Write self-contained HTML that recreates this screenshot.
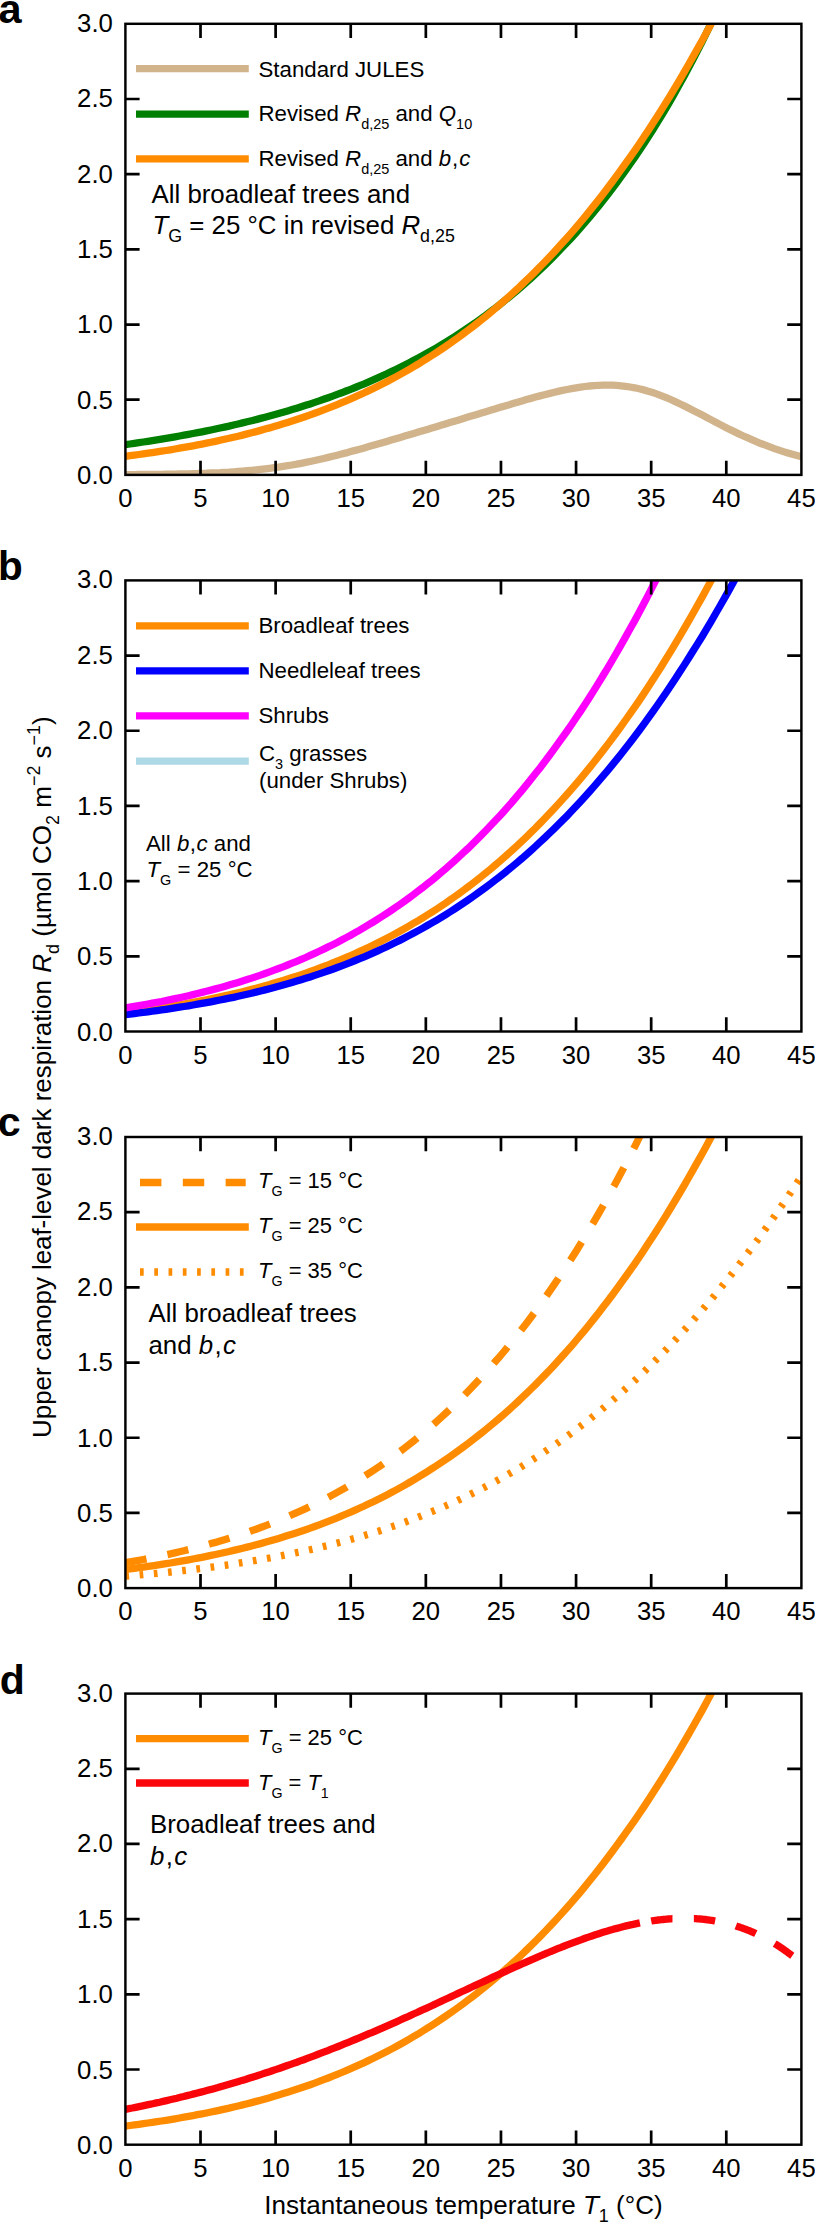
<!DOCTYPE html>
<html lang="en"><head><meta charset="utf-8"><title>Leaf-level dark respiration versus temperature</title>
<style>html,body{margin:0;padding:0;background:#fff}svg{display:block}text{font-family:"Liberation Sans",Arial,Helvetica,sans-serif;fill:#000}.i{font-style:italic}.c{fill:none;stroke-width:7.30}.f{fill:none;stroke:#000;stroke-width:2.45}.pl{font-weight:bold}</style></head><body>
<svg width="815" height="2222" viewBox="0 0 815 2222">
<rect width="815" height="2222" fill="#fff"/>
<defs>
<clipPath id="cp0"><rect x="125.40" y="23.80" width="676.00" height="451.10"/></clipPath>
<clipPath id="cp1"><rect x="125.40" y="580.40" width="676.00" height="451.10"/></clipPath>
<clipPath id="cp2"><rect x="125.40" y="1137.00" width="676.00" height="451.10"/></clipPath>
<clipPath id="cp3"><rect x="125.40" y="1693.60" width="676.00" height="451.10"/></clipPath>
</defs>
<path class="c" clip-path="url(#cp0)" stroke="#D2B48C" d="M125.4 474.6 L129.9 474.6 L134.4 474.6 L138.9 474.5 L143.4 474.5 L147.9 474.5 L152.4 474.4 L156.9 474.4 L161.5 474.3 L166.0 474.2 L170.5 474.2 L175.0 474.1 L179.5 474.0 L184.0 473.9 L188.5 473.8 L193.0 473.6 L197.5 473.5 L202.0 473.3 L206.5 473.2 L211.0 473.0 L215.5 472.8 L220.0 472.6 L224.5 472.3 L229.1 472.1 L233.6 471.8 L238.1 471.4 L242.6 471.1 L247.1 470.7 L251.6 470.3 L256.1 469.9 L260.6 469.4 L265.1 468.9 L269.6 468.3 L274.1 467.7 L278.6 467.1 L283.1 466.4 L287.6 465.7 L292.1 465.0 L296.7 464.2 L301.2 463.3 L305.7 462.4 L310.2 461.5 L314.7 460.5 L319.2 459.5 L323.7 458.5 L328.2 457.4 L332.7 456.3 L337.2 455.2 L341.7 454.0 L346.2 452.9 L350.7 451.6 L355.2 450.4 L359.7 449.2 L364.3 447.9 L368.8 446.6 L373.3 445.3 L377.8 444.0 L382.3 442.7 L386.8 441.4 L391.3 440.1 L395.8 438.7 L400.3 437.4 L404.8 436.1 L409.3 434.7 L413.8 433.4 L418.3 432.0 L422.8 430.7 L427.3 429.4 L431.9 428.0 L436.4 426.7 L440.9 425.3 L445.4 423.9 L449.9 422.6 L454.4 421.2 L458.9 419.9 L463.4 418.5 L467.9 417.1 L472.4 415.8 L476.9 414.4 L481.4 413.0 L485.9 411.7 L490.4 410.3 L494.9 409.0 L499.5 407.6 L504.0 406.2 L508.5 404.9 L513.0 403.6 L517.5 402.2 L522.0 400.9 L526.5 399.6 L531.0 398.4 L535.5 397.1 L540.0 395.9 L544.5 394.7 L549.0 393.6 L553.5 392.5 L558.0 391.4 L562.5 390.4 L567.1 389.5 L571.6 388.6 L576.1 387.8 L580.6 387.1 L585.1 386.5 L589.6 386.0 L594.1 385.6 L598.6 385.3 L603.1 385.1 L607.6 385.1 L612.1 385.2 L616.6 385.4 L621.1 385.8 L625.6 386.3 L630.1 387.0 L634.7 387.8 L639.2 388.8 L643.7 389.9 L648.2 391.2 L652.7 392.6 L657.2 394.1 L661.7 395.8 L666.2 397.6 L670.7 399.5 L675.2 401.6 L679.7 403.7 L684.2 405.9 L688.7 408.1 L693.2 410.4 L697.7 412.7 L702.3 415.1 L706.8 417.5 L711.3 419.9 L715.8 422.2 L720.3 424.6 L724.8 426.9 L729.3 429.2 L733.8 431.4 L738.3 433.6 L742.8 435.7 L747.3 437.7 L751.8 439.7 L756.3 441.6 L760.8 443.5 L765.3 445.2 L769.9 446.9 L774.4 448.6 L778.9 450.1 L783.4 451.6 L787.9 453.0 L792.4 454.3 L796.9 455.5 L801.4 456.7"/>
<path class="c" clip-path="url(#cp0)" stroke="#007F00" d="M125.4 444.6 L129.9 444.0 L134.4 443.3 L138.9 442.7 L143.4 442.0 L147.9 441.3 L152.4 440.6 L156.9 439.9 L161.5 439.1 L166.0 438.4 L170.5 437.6 L175.0 436.8 L179.5 436.0 L184.0 435.2 L188.5 434.4 L193.0 433.5 L197.5 432.7 L202.0 431.8 L206.5 430.9 L211.0 430.0 L215.5 429.0 L220.0 428.0 L224.5 427.1 L229.1 426.1 L233.6 425.0 L238.1 424.0 L242.6 422.9 L247.1 421.8 L251.6 420.7 L256.1 419.6 L260.6 418.4 L265.1 417.2 L269.6 416.0 L274.1 414.8 L278.6 413.5 L283.1 412.2 L287.6 410.9 L292.1 409.6 L296.7 408.2 L301.2 406.8 L305.7 405.3 L310.2 403.9 L314.7 402.4 L319.2 400.9 L323.7 399.3 L328.2 397.7 L332.7 396.1 L337.2 394.4 L341.7 392.8 L346.2 391.0 L350.7 389.3 L355.2 387.5 L359.7 385.6 L364.3 383.8 L368.8 381.8 L373.3 379.9 L377.8 377.9 L382.3 375.8 L386.8 373.8 L391.3 371.6 L395.8 369.5 L400.3 367.3 L404.8 365.0 L409.3 362.7 L413.8 360.3 L418.3 357.9 L422.8 355.5 L427.3 353.0 L431.9 350.4 L436.4 347.8 L440.9 345.1 L445.4 342.4 L449.9 339.6 L454.4 336.7 L458.9 333.8 L463.4 330.9 L467.9 327.9 L472.4 324.8 L476.9 321.6 L481.4 318.4 L485.9 315.1 L490.4 311.7 L494.9 308.3 L499.5 304.8 L504.0 301.2 L508.5 297.6 L513.0 293.9 L517.5 290.1 L522.0 286.2 L526.5 282.2 L531.0 278.2 L535.5 274.0 L540.0 269.8 L544.5 265.5 L549.0 261.1 L553.5 256.6 L558.0 252.0 L562.5 247.3 L567.1 242.6 L571.6 237.7 L576.1 232.7 L580.6 227.6 L585.1 222.4 L589.6 217.1 L594.1 211.7 L598.6 206.2 L603.1 200.5 L607.6 194.7 L612.1 188.9 L616.6 182.8 L621.1 176.7 L625.6 170.4 L630.1 164.0 L634.7 157.5 L639.2 150.8 L643.7 144.0 L648.2 137.1 L652.7 130.0 L657.2 122.7 L661.7 115.3 L666.2 107.8 L670.7 100.1 L675.2 92.2 L679.7 84.1 L684.2 75.9 L688.7 67.6 L693.2 59.0 L697.7 50.3 L702.3 41.3 L706.8 32.2 L711.3 22.9 L715.8 13.4 L720.3 3.7 L724.8 -6.2 L729.3 -16.3"/>
<path class="c" clip-path="url(#cp0)" stroke="#FF8C00" d="M125.4 456.3 L129.9 455.7 L134.4 455.1 L138.9 454.5 L143.4 453.9 L147.9 453.2 L152.4 452.6 L156.9 451.9 L161.5 451.2 L166.0 450.5 L170.5 449.8 L175.0 449.0 L179.5 448.2 L184.0 447.4 L188.5 446.6 L193.0 445.8 L197.5 444.9 L202.0 444.1 L206.5 443.2 L211.0 442.2 L215.5 441.3 L220.0 440.3 L224.5 439.3 L229.1 438.3 L233.6 437.2 L238.1 436.2 L242.6 435.1 L247.1 433.9 L251.6 432.8 L256.1 431.6 L260.6 430.4 L265.1 429.1 L269.6 427.9 L274.1 426.5 L278.6 425.2 L283.1 423.8 L287.6 422.4 L292.1 421.0 L296.7 419.5 L301.2 418.0 L305.7 416.5 L310.2 414.9 L314.7 413.3 L319.2 411.6 L323.7 409.9 L328.2 408.2 L332.7 406.4 L337.2 404.6 L341.7 402.7 L346.2 400.8 L350.7 398.9 L355.2 396.9 L359.7 394.8 L364.3 392.8 L368.8 390.6 L373.3 388.5 L377.8 386.2 L382.3 384.0 L386.8 381.7 L391.3 379.3 L395.8 376.9 L400.3 374.4 L404.8 371.9 L409.3 369.3 L413.8 366.6 L418.3 364.0 L422.8 361.2 L427.3 358.4 L431.9 355.5 L436.4 352.6 L440.9 349.6 L445.4 346.6 L449.9 343.5 L454.4 340.3 L458.9 337.1 L463.4 333.8 L467.9 330.4 L472.4 327.0 L476.9 323.5 L481.4 319.9 L485.9 316.3 L490.4 312.6 L494.9 308.8 L499.5 304.9 L504.0 301.0 L508.5 297.0 L513.0 292.9 L517.5 288.8 L522.0 284.5 L526.5 280.2 L531.0 275.8 L535.5 271.4 L540.0 266.8 L544.5 262.2 L549.0 257.5 L553.5 252.7 L558.0 247.8 L562.5 242.8 L567.1 237.7 L571.6 232.6 L576.1 227.3 L580.6 222.0 L585.1 216.6 L589.6 211.0 L594.1 205.4 L598.6 199.7 L603.1 193.9 L607.6 188.0 L612.1 182.0 L616.6 175.9 L621.1 169.7 L625.6 163.4 L630.1 157.1 L634.7 150.6 L639.2 144.0 L643.7 137.3 L648.2 130.4 L652.7 123.5 L657.2 116.5 L661.7 109.4 L666.2 102.1 L670.7 94.8 L675.2 87.3 L679.7 79.8 L684.2 72.1 L688.7 64.3 L693.2 56.4 L697.7 48.4 L702.3 40.3 L706.8 32.0 L711.3 23.6 L715.8 15.2 L720.3 6.6 L724.8 -2.1 L729.3 -11.0 L733.8 -19.9"/>
<path class="f" style="stroke-width:2.7" d="M200.51 474.90 v-14.20 M200.51 23.80 v14.20 M275.62 474.90 v-14.20 M275.62 23.80 v14.20 M350.73 474.90 v-14.20 M350.73 23.80 v14.20 M425.84 474.90 v-14.20 M425.84 23.80 v14.20 M500.96 474.90 v-14.20 M500.96 23.80 v14.20 M576.07 474.90 v-14.20 M576.07 23.80 v14.20 M651.18 474.90 v-14.20 M651.18 23.80 v14.20 M726.29 474.90 v-14.20 M726.29 23.80 v14.20 M125.40 399.72 h14.20 M801.40 399.72 h-14.20 M125.40 324.53 h14.20 M801.40 324.53 h-14.20 M125.40 249.35 h14.20 M801.40 249.35 h-14.20 M125.40 174.17 h14.20 M801.40 174.17 h-14.20 M125.40 98.98 h14.20 M801.40 98.98 h-14.20"/>
<rect class="f" x="125.40" y="23.80" width="676.00" height="451.10"/>
<text transform="translate(125.40 506.90) scale(1.0120 1)" font-size="25.40" text-anchor="middle">0</text>
<text transform="translate(200.51 506.90) scale(1.0120 1)" font-size="25.40" text-anchor="middle">5</text>
<text transform="translate(275.62 506.90) scale(1.0120 1)" font-size="25.40" text-anchor="middle">10</text>
<text transform="translate(350.73 506.90) scale(1.0120 1)" font-size="25.40" text-anchor="middle">15</text>
<text transform="translate(425.84 506.90) scale(1.0120 1)" font-size="25.40" text-anchor="middle">20</text>
<text transform="translate(500.96 506.90) scale(1.0120 1)" font-size="25.40" text-anchor="middle">25</text>
<text transform="translate(576.07 506.90) scale(1.0120 1)" font-size="25.40" text-anchor="middle">30</text>
<text transform="translate(651.18 506.90) scale(1.0120 1)" font-size="25.40" text-anchor="middle">35</text>
<text transform="translate(726.29 506.90) scale(1.0120 1)" font-size="25.40" text-anchor="middle">40</text>
<text transform="translate(801.40 506.90) scale(1.0120 1)" font-size="25.40" text-anchor="middle">45</text>
<text transform="translate(112.90 484.10) scale(1.0150 1)" font-size="25.40" text-anchor="end">0.0</text>
<text transform="translate(112.90 408.72) scale(1.0150 1)" font-size="25.40" text-anchor="end">0.5</text>
<text transform="translate(112.90 333.33) scale(1.0150 1)" font-size="25.40" text-anchor="end">1.0</text>
<text transform="translate(112.90 257.95) scale(1.0150 1)" font-size="25.40" text-anchor="end">1.5</text>
<text transform="translate(112.90 182.57) scale(1.0150 1)" font-size="25.40" text-anchor="end">2.0</text>
<text transform="translate(112.90 107.18) scale(1.0150 1)" font-size="25.40" text-anchor="end">2.5</text>
<text transform="translate(112.90 31.80) scale(1.0150 1)" font-size="25.40" text-anchor="end">3.0</text>
<path class="c" stroke="#D2B48C" d="M136.0 68.70 H248.8"/>
<path class="c" stroke="#007F00" d="M136.0 114.10 H248.8"/>
<path class="c" stroke="#FF8C00" d="M136.0 158.90 H248.8"/>
<text transform="translate(258.50 76.50)" font-size="22.25">Standard JULES</text>
<text transform="translate(258.50 121.20)" font-size="22.25">Revised <tspan class="i">R</tspan><tspan baseline-shift="-7.60" font-size="14.46">d,25</tspan> and <tspan class="i">Q</tspan><tspan baseline-shift="-7.60" font-size="14.46">10</tspan></text>
<text transform="translate(258.50 165.60)" font-size="22.25">Revised <tspan class="i">R</tspan><tspan baseline-shift="-7.60" font-size="14.46">d,25</tspan> and <tspan class="i" letter-spacing="0.90">b</tspan><tspan letter-spacing="0.90">,</tspan><tspan class="i">c</tspan></text>
<text transform="translate(151.50 202.50) scale(1.0180 1)" font-size="25.40">All broadleaf trees and</text>
<text transform="translate(152.50 234.30) scale(1.0180 1)" font-size="25.40"><tspan class="i">T</tspan><tspan baseline-shift="-7.60" font-size="17.53">G</tspan> = 25 °C in revised <tspan class="i">R</tspan><tspan baseline-shift="-7.60" font-size="17.53">d,25</tspan></text>
<text transform="translate(-1.60 23.40)" font-size="41.50" class="pl">a</text>
<path class="c" clip-path="url(#cp1)" stroke="#FF8C00" d="M125.4 1012.9 L129.9 1012.3 L134.4 1011.7 L138.9 1011.1 L143.4 1010.5 L147.9 1009.8 L152.4 1009.2 L156.9 1008.5 L161.5 1007.8 L166.0 1007.1 L170.5 1006.4 L175.0 1005.6 L179.5 1004.8 L184.0 1004.0 L188.5 1003.2 L193.0 1002.4 L197.5 1001.5 L202.0 1000.7 L206.5 999.8 L211.0 998.8 L215.5 997.9 L220.0 996.9 L224.5 995.9 L229.1 994.9 L233.6 993.8 L238.1 992.8 L242.6 991.7 L247.1 990.5 L251.6 989.4 L256.1 988.2 L260.6 987.0 L265.1 985.7 L269.6 984.5 L274.1 983.1 L278.6 981.8 L283.1 980.4 L287.6 979.0 L292.1 977.6 L296.7 976.1 L301.2 974.6 L305.7 973.1 L310.2 971.5 L314.7 969.9 L319.2 968.2 L323.7 966.5 L328.2 964.8 L332.7 963.0 L337.2 961.2 L341.7 959.3 L346.2 957.4 L350.7 955.5 L355.2 953.5 L359.7 951.4 L364.3 949.4 L368.8 947.2 L373.3 945.1 L377.8 942.8 L382.3 940.6 L386.8 938.3 L391.3 935.9 L395.8 933.5 L400.3 931.0 L404.8 928.5 L409.3 925.9 L413.8 923.2 L418.3 920.6 L422.8 917.8 L427.3 915.0 L431.9 912.1 L436.4 909.2 L440.9 906.2 L445.4 903.2 L449.9 900.1 L454.4 896.9 L458.9 893.7 L463.4 890.4 L467.9 887.0 L472.4 883.6 L476.9 880.1 L481.4 876.5 L485.9 872.9 L490.4 869.2 L494.9 865.4 L499.5 861.5 L504.0 857.6 L508.5 853.6 L513.0 849.5 L517.5 845.4 L522.0 841.1 L526.5 836.8 L531.0 832.4 L535.5 828.0 L540.0 823.4 L544.5 818.8 L549.0 814.1 L553.5 809.3 L558.0 804.4 L562.5 799.4 L567.1 794.3 L571.6 789.2 L576.1 783.9 L580.6 778.6 L585.1 773.2 L589.6 767.6 L594.1 762.0 L598.6 756.3 L603.1 750.5 L607.6 744.6 L612.1 738.6 L616.6 732.5 L621.1 726.3 L625.6 720.0 L630.1 713.7 L634.7 707.2 L639.2 700.6 L643.7 693.9 L648.2 687.0 L652.7 680.1 L657.2 673.1 L661.7 666.0 L666.2 658.7 L670.7 651.4 L675.2 643.9 L679.7 636.4 L684.2 628.7 L688.7 620.9 L693.2 613.0 L697.7 605.0 L702.3 596.9 L706.8 588.6 L711.3 580.2 L715.8 571.8 L720.3 563.2 L724.8 554.5 L729.3 545.6 L733.8 536.7"/>
<path class="c" clip-path="url(#cp1)" stroke="#0000FF" d="M125.4 1014.5 L129.9 1014.0 L134.4 1013.5 L138.9 1012.9 L143.4 1012.4 L147.9 1011.8 L152.4 1011.2 L156.9 1010.6 L161.5 1009.9 L166.0 1009.3 L170.5 1008.6 L175.0 1007.9 L179.5 1007.2 L184.0 1006.5 L188.5 1005.8 L193.0 1005.0 L197.5 1004.2 L202.0 1003.4 L206.5 1002.6 L211.0 1001.8 L215.5 1000.9 L220.0 1000.0 L224.5 999.1 L229.1 998.2 L233.6 997.3 L238.1 996.3 L242.6 995.3 L247.1 994.2 L251.6 993.2 L256.1 992.1 L260.6 991.0 L265.1 989.9 L269.6 988.7 L274.1 987.5 L278.6 986.3 L283.1 985.0 L287.6 983.8 L292.1 982.5 L296.7 981.1 L301.2 979.7 L305.7 978.3 L310.2 976.9 L314.7 975.4 L319.2 973.9 L323.7 972.4 L328.2 970.8 L332.7 969.2 L337.2 967.5 L341.7 965.8 L346.2 964.1 L350.7 962.3 L355.2 960.5 L359.7 958.7 L364.3 956.8 L368.8 954.9 L373.3 952.9 L377.8 950.9 L382.3 948.8 L386.8 946.7 L391.3 944.5 L395.8 942.3 L400.3 940.1 L404.8 937.8 L409.3 935.4 L413.8 933.0 L418.3 930.6 L422.8 928.1 L427.3 925.5 L431.9 922.9 L436.4 920.3 L440.9 917.6 L445.4 914.8 L449.9 912.0 L454.4 909.1 L458.9 906.1 L463.4 903.1 L467.9 900.1 L472.4 897.0 L476.9 893.8 L481.4 890.5 L485.9 887.2 L490.4 883.8 L494.9 880.4 L499.5 876.9 L504.0 873.3 L508.5 869.7 L513.0 866.0 L517.5 862.2 L522.0 858.4 L526.5 854.4 L531.0 850.4 L535.5 846.4 L540.0 842.2 L544.5 838.0 L549.0 833.7 L553.5 829.3 L558.0 824.9 L562.5 820.4 L567.1 815.8 L571.6 811.1 L576.1 806.3 L580.6 801.5 L585.1 796.5 L589.6 791.5 L594.1 786.4 L598.6 781.2 L603.1 775.9 L607.6 770.6 L612.1 765.1 L616.6 759.6 L621.1 753.9 L625.6 748.2 L630.1 742.4 L634.7 736.5 L639.2 730.5 L643.7 724.4 L648.2 718.2 L652.7 711.9 L657.2 705.5 L661.7 699.0 L666.2 692.5 L670.7 685.8 L675.2 679.0 L679.7 672.1 L684.2 665.1 L688.7 658.0 L693.2 650.8 L697.7 643.6 L702.3 636.2 L706.8 628.7 L711.3 621.1 L715.8 613.3 L720.3 605.5 L724.8 597.6 L729.3 589.6 L733.8 581.4 L738.3 573.2 L742.8 564.8 L747.3 556.3 L751.8 547.8 L756.3 539.1"/>
<path class="c" clip-path="url(#cp1)" stroke="#FF00FF" d="M125.4 1007.9 L129.9 1007.1 L134.4 1006.4 L138.9 1005.6 L143.4 1004.8 L147.9 1004.0 L152.4 1003.2 L156.9 1002.3 L161.5 1001.5 L166.0 1000.6 L170.5 999.6 L175.0 998.7 L179.5 997.7 L184.0 996.7 L188.5 995.7 L193.0 994.6 L197.5 993.5 L202.0 992.4 L206.5 991.3 L211.0 990.1 L215.5 988.9 L220.0 987.7 L224.5 986.4 L229.1 985.1 L233.6 983.8 L238.1 982.4 L242.6 981.0 L247.1 979.6 L251.6 978.1 L256.1 976.6 L260.6 975.1 L265.1 973.5 L269.6 971.9 L274.1 970.2 L278.6 968.5 L283.1 966.8 L287.6 965.0 L292.1 963.2 L296.7 961.3 L301.2 959.4 L305.7 957.5 L310.2 955.4 L314.7 953.4 L319.2 951.3 L323.7 949.1 L328.2 946.9 L332.7 944.7 L337.2 942.4 L341.7 940.0 L346.2 937.6 L350.7 935.2 L355.2 932.6 L359.7 930.1 L364.3 927.4 L368.8 924.7 L373.3 922.0 L377.8 919.2 L382.3 916.3 L386.8 913.4 L391.3 910.4 L395.8 907.3 L400.3 904.2 L404.8 901.0 L409.3 897.7 L413.8 894.4 L418.3 890.9 L422.8 887.5 L427.3 883.9 L431.9 880.3 L436.4 876.6 L440.9 872.8 L445.4 868.9 L449.9 865.0 L454.4 861.0 L458.9 856.9 L463.4 852.7 L467.9 848.5 L472.4 844.1 L476.9 839.7 L481.4 835.2 L485.9 830.5 L490.4 825.8 L494.9 821.1 L499.5 816.2 L504.0 811.2 L508.5 806.1 L513.0 801.0 L517.5 795.7 L522.0 790.3 L526.5 784.9 L531.0 779.3 L535.5 773.6 L540.0 767.9 L544.5 762.0 L549.0 756.0 L553.5 749.9 L558.0 743.7 L562.5 737.4 L567.1 731.0 L571.6 724.5 L576.1 717.8 L580.6 711.1 L585.1 704.2 L589.6 697.2 L594.1 690.1 L598.6 682.9 L603.1 675.5 L607.6 668.1 L612.1 660.5 L616.6 652.7 L621.1 644.9 L625.6 636.9 L630.1 628.8 L634.7 620.6 L639.2 612.2 L643.7 603.7 L648.2 595.1 L652.7 586.3 L657.2 577.5 L661.7 568.4 L666.2 559.3 L670.7 549.9 L675.2 540.5 L679.7 530.9"/>
<path class="f" style="stroke-width:2.7" d="M200.51 1031.50 v-14.20 M200.51 580.40 v14.20 M275.62 1031.50 v-14.20 M275.62 580.40 v14.20 M350.73 1031.50 v-14.20 M350.73 580.40 v14.20 M425.84 1031.50 v-14.20 M425.84 580.40 v14.20 M500.96 1031.50 v-14.20 M500.96 580.40 v14.20 M576.07 1031.50 v-14.20 M576.07 580.40 v14.20 M651.18 1031.50 v-14.20 M651.18 580.40 v14.20 M726.29 1031.50 v-14.20 M726.29 580.40 v14.20 M125.40 956.32 h14.20 M801.40 956.32 h-14.20 M125.40 881.13 h14.20 M801.40 881.13 h-14.20 M125.40 805.95 h14.20 M801.40 805.95 h-14.20 M125.40 730.77 h14.20 M801.40 730.77 h-14.20 M125.40 655.58 h14.20 M801.40 655.58 h-14.20"/>
<rect class="f" x="125.40" y="580.40" width="676.00" height="451.10"/>
<text transform="translate(125.40 1063.50) scale(1.0120 1)" font-size="25.40" text-anchor="middle">0</text>
<text transform="translate(200.51 1063.50) scale(1.0120 1)" font-size="25.40" text-anchor="middle">5</text>
<text transform="translate(275.62 1063.50) scale(1.0120 1)" font-size="25.40" text-anchor="middle">10</text>
<text transform="translate(350.73 1063.50) scale(1.0120 1)" font-size="25.40" text-anchor="middle">15</text>
<text transform="translate(425.84 1063.50) scale(1.0120 1)" font-size="25.40" text-anchor="middle">20</text>
<text transform="translate(500.96 1063.50) scale(1.0120 1)" font-size="25.40" text-anchor="middle">25</text>
<text transform="translate(576.07 1063.50) scale(1.0120 1)" font-size="25.40" text-anchor="middle">30</text>
<text transform="translate(651.18 1063.50) scale(1.0120 1)" font-size="25.40" text-anchor="middle">35</text>
<text transform="translate(726.29 1063.50) scale(1.0120 1)" font-size="25.40" text-anchor="middle">40</text>
<text transform="translate(801.40 1063.50) scale(1.0120 1)" font-size="25.40" text-anchor="middle">45</text>
<text transform="translate(112.90 1040.70) scale(1.0150 1)" font-size="25.40" text-anchor="end">0.0</text>
<text transform="translate(112.90 965.32) scale(1.0150 1)" font-size="25.40" text-anchor="end">0.5</text>
<text transform="translate(112.90 889.93) scale(1.0150 1)" font-size="25.40" text-anchor="end">1.0</text>
<text transform="translate(112.90 814.55) scale(1.0150 1)" font-size="25.40" text-anchor="end">1.5</text>
<text transform="translate(112.90 739.17) scale(1.0150 1)" font-size="25.40" text-anchor="end">2.0</text>
<text transform="translate(112.90 663.78) scale(1.0150 1)" font-size="25.40" text-anchor="end">2.5</text>
<text transform="translate(112.90 588.40) scale(1.0150 1)" font-size="25.40" text-anchor="end">3.0</text>
<path class="c" stroke="#FF8C00" d="M136.0 625.80 H248.8"/>
<path class="c" stroke="#0000FF" d="M136.0 670.80 H248.8"/>
<path class="c" stroke="#FF00FF" d="M136.0 715.90 H248.8"/>
<path class="c" stroke="#ADD8E6" d="M136.0 761.10 H248.8"/>
<text transform="translate(258.50 633.00)" font-size="22.25">Broadleaf trees</text>
<text transform="translate(258.50 678.00)" font-size="22.25">Needleleaf trees</text>
<text transform="translate(258.50 723.00)" font-size="22.25">Shrubs</text>
<text transform="translate(259.00 761.30)" font-size="22.25">C<tspan baseline-shift="-7.60" font-size="14.46">3</tspan> grasses</text>
<text transform="translate(259.00 787.80)" font-size="22.25">(under Shrubs)</text>
<text transform="translate(146.00 850.80)" font-size="22.25">All <tspan class="i" letter-spacing="0.50">b</tspan><tspan letter-spacing="0.50">,</tspan><tspan class="i">c</tspan> and</text>
<text transform="translate(146.50 877.40)" font-size="22.25"><tspan class="i">T</tspan><tspan baseline-shift="-7.60" font-size="14.46">G</tspan> = 25 °C</text>
<text transform="translate(-2.00 580.00)" font-size="40.50" class="pl">b</text>
<path class="c" clip-path="url(#cp2)" stroke="#FF8C00" d="M125.4 1562.7 L129.9 1561.9 L134.4 1561.1 L138.9 1560.3 L143.4 1559.5 L147.9 1558.6 L152.4 1557.7 L156.9 1556.8 L161.5 1555.8 L166.0 1554.9 L170.5 1553.9 L175.0 1552.9 L179.5 1551.8 L184.0 1550.7 L188.5 1549.6 L193.0 1548.5 L197.5 1547.3 L202.0 1546.1 L206.5 1544.9 L211.0 1543.6 L215.5 1542.4 L220.0 1541.0 L224.5 1539.7 L229.1 1538.3 L233.6 1536.9 L238.1 1535.4 L242.6 1533.9 L247.1 1532.4 L251.6 1530.8 L256.1 1529.2 L260.6 1527.5 L265.1 1525.8 L269.6 1524.1 L274.1 1522.3 L278.6 1520.5 L283.1 1518.6 L287.6 1516.7 L292.1 1514.7 L296.7 1512.7 L301.2 1510.7 L305.7 1508.6 L310.2 1506.4 L314.7 1504.2 L319.2 1501.9 L323.7 1499.6 L328.2 1497.3 L332.7 1494.9 L337.2 1492.4 L341.7 1489.9 L346.2 1487.3 L350.7 1484.6 L355.2 1481.9 L359.7 1479.2 L364.3 1476.3 L368.8 1473.4 L373.3 1470.5 L377.8 1467.5 L382.3 1464.4 L386.8 1461.2 L391.3 1458.0 L395.8 1454.7 L400.3 1451.3 L404.8 1447.9 L409.3 1444.4 L413.8 1440.8 L418.3 1437.1 L422.8 1433.4 L427.3 1429.6 L431.9 1425.7 L436.4 1421.7 L440.9 1417.6 L445.4 1413.5 L449.9 1409.3 L454.4 1404.9 L458.9 1400.5 L463.4 1396.1 L467.9 1391.5 L472.4 1386.8 L476.9 1382.0 L481.4 1377.2 L485.9 1372.2 L490.4 1367.2 L494.9 1362.0 L499.5 1356.8 L504.0 1351.5 L508.5 1346.0 L513.0 1340.5 L517.5 1334.8 L522.0 1329.0 L526.5 1323.2 L531.0 1317.2 L535.5 1311.1 L540.0 1304.9 L544.5 1298.6 L549.0 1292.2 L553.5 1285.7 L558.0 1279.0 L562.5 1272.2 L567.1 1265.3 L571.6 1258.3 L576.1 1251.2 L580.6 1243.9 L585.1 1236.5 L589.6 1229.0 L594.1 1221.4 L598.6 1213.6 L603.1 1205.7 L607.6 1197.7 L612.1 1189.6 L616.6 1181.3 L621.1 1172.8 L625.6 1164.3 L630.1 1155.6 L634.7 1146.7 L639.2 1137.7 L643.7 1128.6 L648.2 1119.3 L652.7 1109.9 L657.2 1100.4 L661.7 1090.7" stroke-dasharray="21.42 21.4"/>
<path class="c" clip-path="url(#cp2)" stroke="#FF8C00" d="M125.4 1569.5 L129.9 1568.9 L134.4 1568.3 L138.9 1567.7 L143.4 1567.1 L147.9 1566.4 L152.4 1565.8 L156.9 1565.1 L161.5 1564.4 L166.0 1563.7 L170.5 1563.0 L175.0 1562.2 L179.5 1561.4 L184.0 1560.6 L188.5 1559.8 L193.0 1559.0 L197.5 1558.1 L202.0 1557.3 L206.5 1556.4 L211.0 1555.4 L215.5 1554.5 L220.0 1553.5 L224.5 1552.5 L229.1 1551.5 L233.6 1550.4 L238.1 1549.4 L242.6 1548.3 L247.1 1547.1 L251.6 1546.0 L256.1 1544.8 L260.6 1543.6 L265.1 1542.3 L269.6 1541.1 L274.1 1539.7 L278.6 1538.4 L283.1 1537.0 L287.6 1535.6 L292.1 1534.2 L296.7 1532.7 L301.2 1531.2 L305.7 1529.7 L310.2 1528.1 L314.7 1526.5 L319.2 1524.8 L323.7 1523.1 L328.2 1521.4 L332.7 1519.6 L337.2 1517.8 L341.7 1515.9 L346.2 1514.0 L350.7 1512.1 L355.2 1510.1 L359.7 1508.0 L364.3 1506.0 L368.8 1503.8 L373.3 1501.7 L377.8 1499.4 L382.3 1497.2 L386.8 1494.9 L391.3 1492.5 L395.8 1490.1 L400.3 1487.6 L404.8 1485.1 L409.3 1482.5 L413.8 1479.8 L418.3 1477.2 L422.8 1474.4 L427.3 1471.6 L431.9 1468.7 L436.4 1465.8 L440.9 1462.8 L445.4 1459.8 L449.9 1456.7 L454.4 1453.5 L458.9 1450.3 L463.4 1447.0 L467.9 1443.6 L472.4 1440.2 L476.9 1436.7 L481.4 1433.1 L485.9 1429.5 L490.4 1425.8 L494.9 1422.0 L499.5 1418.1 L504.0 1414.2 L508.5 1410.2 L513.0 1406.1 L517.5 1402.0 L522.0 1397.7 L526.5 1393.4 L531.0 1389.0 L535.5 1384.6 L540.0 1380.0 L544.5 1375.4 L549.0 1370.7 L553.5 1365.9 L558.0 1361.0 L562.5 1356.0 L567.1 1350.9 L571.6 1345.8 L576.1 1340.5 L580.6 1335.2 L585.1 1329.8 L589.6 1324.2 L594.1 1318.6 L598.6 1312.9 L603.1 1307.1 L607.6 1301.2 L612.1 1295.2 L616.6 1289.1 L621.1 1282.9 L625.6 1276.6 L630.1 1270.3 L634.7 1263.8 L639.2 1257.2 L643.7 1250.5 L648.2 1243.6 L652.7 1236.7 L657.2 1229.7 L661.7 1222.6 L666.2 1215.3 L670.7 1208.0 L675.2 1200.5 L679.7 1193.0 L684.2 1185.3 L688.7 1177.5 L693.2 1169.6 L697.7 1161.6 L702.3 1153.5 L706.8 1145.2 L711.3 1136.8 L715.8 1128.4 L720.3 1119.8 L724.8 1111.1 L729.3 1102.2 L733.8 1093.3"/>
<path class="c" clip-path="url(#cp2)" stroke="#FF8C00" d="M125.4 1576.2 L129.9 1575.8 L134.4 1575.4 L138.9 1575.0 L143.4 1574.6 L147.9 1574.2 L152.4 1573.8 L156.9 1573.4 L161.5 1572.9 L166.0 1572.5 L170.5 1572.0 L175.0 1571.5 L179.5 1571.0 L184.0 1570.5 L188.5 1570.0 L193.0 1569.5 L197.5 1568.9 L202.0 1568.4 L206.5 1567.8 L211.0 1567.2 L215.5 1566.6 L220.0 1566.0 L224.5 1565.3 L229.1 1564.7 L233.6 1564.0 L238.1 1563.3 L242.6 1562.6 L247.1 1561.9 L251.6 1561.1 L256.1 1560.4 L260.6 1559.6 L265.1 1558.8 L269.6 1558.0 L274.1 1557.2 L278.6 1556.3 L283.1 1555.4 L287.6 1554.5 L292.1 1553.6 L296.7 1552.6 L301.2 1551.7 L305.7 1550.7 L310.2 1549.7 L314.7 1548.6 L319.2 1547.6 L323.7 1546.5 L328.2 1545.4 L332.7 1544.2 L337.2 1543.1 L341.7 1541.9 L346.2 1540.7 L350.7 1539.4 L355.2 1538.2 L359.7 1536.9 L364.3 1535.5 L368.8 1534.2 L373.3 1532.8 L377.8 1531.4 L382.3 1529.9 L386.8 1528.4 L391.3 1526.9 L395.8 1525.4 L400.3 1523.8 L404.8 1522.2 L409.3 1520.5 L413.8 1518.8 L418.3 1517.1 L422.8 1515.3 L427.3 1513.5 L431.9 1511.7 L436.4 1509.8 L440.9 1507.9 L445.4 1506.0 L449.9 1504.0 L454.4 1502.0 L458.9 1499.9 L463.4 1497.8 L467.9 1495.6 L472.4 1493.4 L476.9 1491.2 L481.4 1488.9 L485.9 1486.6 L490.4 1484.2 L494.9 1481.8 L499.5 1479.3 L504.0 1476.8 L508.5 1474.2 L513.0 1471.6 L517.5 1469.0 L522.0 1466.3 L526.5 1463.5 L531.0 1460.7 L535.5 1457.8 L540.0 1454.9 L544.5 1451.9 L549.0 1448.9 L553.5 1445.9 L558.0 1442.7 L562.5 1439.5 L567.1 1436.3 L571.6 1433.0 L576.1 1429.6 L580.6 1426.2 L585.1 1422.8 L589.6 1419.2 L594.1 1415.6 L598.6 1412.0 L603.1 1408.3 L607.6 1404.5 L612.1 1400.7 L616.6 1396.8 L621.1 1392.8 L625.6 1388.8 L630.1 1384.7 L634.7 1380.5 L639.2 1376.3 L643.7 1372.0 L648.2 1367.6 L652.7 1363.2 L657.2 1358.7 L661.7 1354.2 L666.2 1349.5 L670.7 1344.8 L675.2 1340.0 L679.7 1335.2 L684.2 1330.3 L688.7 1325.3 L693.2 1320.2 L697.7 1315.1 L702.3 1309.9 L706.8 1304.6 L711.3 1299.3 L715.8 1293.9 L720.3 1288.4 L724.8 1282.8 L729.3 1277.1 L733.8 1271.4 L738.3 1265.6 L742.8 1259.7 L747.3 1253.7 L751.8 1247.7 L756.3 1241.6 L760.8 1235.4 L765.3 1229.1 L769.9 1222.8 L774.4 1216.4 L778.9 1209.8 L783.4 1203.3 L787.9 1196.6 L792.4 1189.8 L796.9 1183.0 L801.4 1176.1" stroke-dasharray="3.7 10.57"/>
<path class="f" style="stroke-width:2.7" d="M200.51 1588.10 v-14.20 M200.51 1137.00 v14.20 M275.62 1588.10 v-14.20 M275.62 1137.00 v14.20 M350.73 1588.10 v-14.20 M350.73 1137.00 v14.20 M425.84 1588.10 v-14.20 M425.84 1137.00 v14.20 M500.96 1588.10 v-14.20 M500.96 1137.00 v14.20 M576.07 1588.10 v-14.20 M576.07 1137.00 v14.20 M651.18 1588.10 v-14.20 M651.18 1137.00 v14.20 M726.29 1588.10 v-14.20 M726.29 1137.00 v14.20 M125.40 1512.92 h14.20 M801.40 1512.92 h-14.20 M125.40 1437.73 h14.20 M801.40 1437.73 h-14.20 M125.40 1362.55 h14.20 M801.40 1362.55 h-14.20 M125.40 1287.37 h14.20 M801.40 1287.37 h-14.20 M125.40 1212.18 h14.20 M801.40 1212.18 h-14.20"/>
<rect class="f" x="125.40" y="1137.00" width="676.00" height="451.10"/>
<text transform="translate(125.40 1620.10) scale(1.0120 1)" font-size="25.40" text-anchor="middle">0</text>
<text transform="translate(200.51 1620.10) scale(1.0120 1)" font-size="25.40" text-anchor="middle">5</text>
<text transform="translate(275.62 1620.10) scale(1.0120 1)" font-size="25.40" text-anchor="middle">10</text>
<text transform="translate(350.73 1620.10) scale(1.0120 1)" font-size="25.40" text-anchor="middle">15</text>
<text transform="translate(425.84 1620.10) scale(1.0120 1)" font-size="25.40" text-anchor="middle">20</text>
<text transform="translate(500.96 1620.10) scale(1.0120 1)" font-size="25.40" text-anchor="middle">25</text>
<text transform="translate(576.07 1620.10) scale(1.0120 1)" font-size="25.40" text-anchor="middle">30</text>
<text transform="translate(651.18 1620.10) scale(1.0120 1)" font-size="25.40" text-anchor="middle">35</text>
<text transform="translate(726.29 1620.10) scale(1.0120 1)" font-size="25.40" text-anchor="middle">40</text>
<text transform="translate(801.40 1620.10) scale(1.0120 1)" font-size="25.40" text-anchor="middle">45</text>
<text transform="translate(112.90 1597.30) scale(1.0150 1)" font-size="25.40" text-anchor="end">0.0</text>
<text transform="translate(112.90 1521.92) scale(1.0150 1)" font-size="25.40" text-anchor="end">0.5</text>
<text transform="translate(112.90 1446.53) scale(1.0150 1)" font-size="25.40" text-anchor="end">1.0</text>
<text transform="translate(112.90 1371.15) scale(1.0150 1)" font-size="25.40" text-anchor="end">1.5</text>
<text transform="translate(112.90 1295.77) scale(1.0150 1)" font-size="25.40" text-anchor="end">2.0</text>
<text transform="translate(112.90 1220.38) scale(1.0150 1)" font-size="25.40" text-anchor="end">2.5</text>
<text transform="translate(112.90 1145.00) scale(1.0150 1)" font-size="25.40" text-anchor="end">3.0</text>
<path class="c" stroke="#FF8C00" d="M140 1182.5 H245.7" stroke-dasharray="21.42 21.4"/>
<path class="c" stroke="#FF8C00" d="M136.0 1227.00 H248.8"/>
<path class="c" stroke="#FF8C00" d="M140.0 1272.00 H248.8" stroke-dasharray="3.7 10.57"/>
<text transform="translate(258.00 1188.30) scale(0.9880 1)" font-size="22.25"><tspan class="i">T</tspan><tspan baseline-shift="-7.60" font-size="14.46">G</tspan> = 15 °C</text>
<text transform="translate(258.00 1233.20) scale(0.9880 1)" font-size="22.25"><tspan class="i">T</tspan><tspan baseline-shift="-7.60" font-size="14.46">G</tspan> = 25 °C</text>
<text transform="translate(258.00 1278.20) scale(0.9880 1)" font-size="22.25"><tspan class="i">T</tspan><tspan baseline-shift="-7.60" font-size="14.46">G</tspan> = 35 °C</text>
<text transform="translate(148.50 1321.80) scale(1.0180 1)" font-size="25.40">All broadleaf trees</text>
<text transform="translate(148.50 1354.20) scale(1.0180 1)" font-size="25.40">and <tspan class="i" letter-spacing="1.30">b</tspan><tspan letter-spacing="1.30">,</tspan><tspan class="i">c</tspan></text>
<text transform="translate(-2.20 1136.20)" font-size="41.20" class="pl">c</text>
<path class="c" clip-path="url(#cp3)" stroke="#FF8C00" d="M125.4 2126.1 L129.9 2125.5 L134.4 2124.9 L138.9 2124.3 L143.4 2123.7 L147.9 2123.0 L152.4 2122.4 L156.9 2121.7 L161.5 2121.0 L166.0 2120.3 L170.5 2119.6 L175.0 2118.8 L179.5 2118.0 L184.0 2117.2 L188.5 2116.4 L193.0 2115.6 L197.5 2114.7 L202.0 2113.9 L206.5 2113.0 L211.0 2112.0 L215.5 2111.1 L220.0 2110.1 L224.5 2109.1 L229.1 2108.1 L233.6 2107.0 L238.1 2106.0 L242.6 2104.9 L247.1 2103.7 L251.6 2102.6 L256.1 2101.4 L260.6 2100.2 L265.1 2098.9 L269.6 2097.7 L274.1 2096.3 L278.6 2095.0 L283.1 2093.6 L287.6 2092.2 L292.1 2090.8 L296.7 2089.3 L301.2 2087.8 L305.7 2086.3 L310.2 2084.7 L314.7 2083.1 L319.2 2081.4 L323.7 2079.7 L328.2 2078.0 L332.7 2076.2 L337.2 2074.4 L341.7 2072.5 L346.2 2070.6 L350.7 2068.7 L355.2 2066.7 L359.7 2064.6 L364.3 2062.6 L368.8 2060.4 L373.3 2058.3 L377.8 2056.0 L382.3 2053.8 L386.8 2051.5 L391.3 2049.1 L395.8 2046.7 L400.3 2044.2 L404.8 2041.7 L409.3 2039.1 L413.8 2036.4 L418.3 2033.8 L422.8 2031.0 L427.3 2028.2 L431.9 2025.3 L436.4 2022.4 L440.9 2019.4 L445.4 2016.4 L449.9 2013.3 L454.4 2010.1 L458.9 2006.9 L463.4 2003.6 L467.9 2000.2 L472.4 1996.8 L476.9 1993.3 L481.4 1989.7 L485.9 1986.1 L490.4 1982.4 L494.9 1978.6 L499.5 1974.7 L504.0 1970.8 L508.5 1966.8 L513.0 1962.7 L517.5 1958.6 L522.0 1954.3 L526.5 1950.0 L531.0 1945.6 L535.5 1941.2 L540.0 1936.6 L544.5 1932.0 L549.0 1927.3 L553.5 1922.5 L558.0 1917.6 L562.5 1912.6 L567.1 1907.5 L571.6 1902.4 L576.1 1897.1 L580.6 1891.8 L585.1 1886.4 L589.6 1880.8 L594.1 1875.2 L598.6 1869.5 L603.1 1863.7 L607.6 1857.8 L612.1 1851.8 L616.6 1845.7 L621.1 1839.5 L625.6 1833.2 L630.1 1826.9 L634.7 1820.4 L639.2 1813.8 L643.7 1807.1 L648.2 1800.2 L652.7 1793.3 L657.2 1786.3 L661.7 1779.2 L666.2 1771.9 L670.7 1764.6 L675.2 1757.1 L679.7 1749.6 L684.2 1741.9 L688.7 1734.1 L693.2 1726.2 L697.7 1718.2 L702.3 1710.1 L706.8 1701.8 L711.3 1693.4 L715.8 1685.0 L720.3 1676.4 L724.8 1667.7 L729.3 1658.8 L733.8 1649.9"/>
<path class="c" clip-path="url(#cp3)" stroke="#FA050A" d="M125.4 2109.3 L128.8 2108.6 L132.3 2108.0 L135.7 2107.3 L139.1 2106.6 L142.6 2105.9 L146.0 2105.1 L149.4 2104.4 L152.8 2103.7 L156.3 2102.9 L159.7 2102.2 L163.1 2101.4 L166.6 2100.6 L170.0 2099.8 L173.4 2099.0 L176.9 2098.2 L180.3 2097.3 L183.7 2096.5 L187.1 2095.6 L190.6 2094.8 L194.0 2093.9 L197.4 2093.0 L200.9 2092.1 L204.3 2091.2 L207.7 2090.3 L211.2 2089.4 L214.6 2088.4 L218.0 2087.5 L221.4 2086.5 L224.9 2085.5 L228.3 2084.5 L231.7 2083.5 L235.2 2082.5 L238.6 2081.5 L242.0 2080.4 L245.5 2079.4 L248.9 2078.3 L252.3 2077.2 L255.7 2076.2 L259.2 2075.1 L262.6 2073.9 L266.0 2072.8 L269.5 2071.7 L272.9 2070.5 L276.3 2069.4 L279.8 2068.2 L283.2 2067.0 L286.6 2065.8 L290.0 2064.6 L293.5 2063.4 L296.9 2062.2 L300.3 2060.9 L303.8 2059.7 L307.2 2058.4 L310.6 2057.1 L314.1 2055.8 L317.5 2054.5 L320.9 2053.2 L324.3 2051.9 L327.8 2050.6 L331.2 2049.2 L334.6 2047.9 L338.1 2046.5 L341.5 2045.1 L344.9 2043.7 L348.4 2042.3 L351.8 2040.9 L355.2 2039.5 L358.6 2038.1 L362.1 2036.6 L365.5 2035.2 L368.9 2033.7 L372.4 2032.3 L375.8 2030.8 L379.2 2029.3 L382.7 2027.8 L386.1 2026.3 L389.5 2024.8 L392.9 2023.3 L396.4 2021.8 L399.8 2020.2 L403.2 2018.7 L406.7 2017.2 L410.1 2015.6 L413.5 2014.0 L417.0 2012.5 L420.4 2010.9 L423.8 2009.3 L427.2 2007.8 L430.7 2006.2 L434.1 2004.6 L437.5 2003.0 L441.0 2001.4 L444.4 1999.8 L447.8 1998.2 L451.3 1996.6 L454.7 1995.0 L458.1 1993.4 L461.5 1991.8 L465.0 1990.2 L468.4 1988.6 L471.8 1987.0 L475.3 1985.4 L478.7 1983.8 L482.1 1982.2 L485.6 1980.6 L489.0 1979.0 L492.4 1977.4 L495.8 1975.8 L499.3 1974.2 L502.7 1972.6 L506.1 1971.1 L509.6 1969.5 L513.0 1967.9 L516.4 1966.4 L519.9 1964.9 L523.3 1963.3 L526.7 1961.8 L530.1 1960.3 L533.6 1958.8 L537.0 1957.3 L540.4 1955.9 L543.9 1954.4 L547.3 1953.0 L550.7 1951.5 L554.2 1950.1 L557.6 1948.7 L561.0 1947.4 L564.4 1946.0 L567.9 1944.7 L571.3 1943.4 L574.7 1942.1 L578.2 1940.8 L581.6 1939.6 L585.0 1938.3 L588.5 1937.1 L591.9 1936.0 L595.3 1934.8 L598.8 1933.7 L602.2 1932.6 L605.6 1931.6 L609.0 1930.5 L612.5 1929.6 L615.9 1928.6 L619.3 1927.7 L622.8 1926.8 L626.2 1925.9 L629.6 1925.1 L633.1 1924.4 L636.5 1923.6 L639.9 1922.9"/>
<path class="c" clip-path="url(#cp3)" stroke="#FA050A" d="M651.2 1921.0 L652.2 1920.8 L653.2 1920.7 L654.2 1920.5 L655.2 1920.4 L656.2 1920.3 L657.2 1920.1 L658.2 1920.0 L659.2 1919.9 L660.2 1919.8 L661.2 1919.7 L662.2 1919.6 L663.2 1919.5 L664.2 1919.4 L665.2 1919.3 L666.2 1919.2 L667.2 1919.1 L668.2 1919.0 L669.2 1918.9 L670.2 1918.9 L671.2 1918.8 L672.2 1918.7 L673.2 1918.7 L674.2 1918.6 L675.2 1918.6 L676.2 1918.5 L677.2 1918.5 L678.2 1918.5 L679.2 1918.4 L680.2 1918.4 L681.2 1918.4 L682.2 1918.4 L683.2 1918.4 L684.2 1918.4 L685.2 1918.4 L686.2 1918.4 L687.2 1918.4 L688.2 1918.4 L689.2 1918.4 L690.2 1918.4 L691.2 1918.5 L692.2 1918.5 L693.2 1918.6 L694.2 1918.6 L695.2 1918.7 L696.2 1918.7 L697.2 1918.8 L698.2 1918.9 L699.2 1918.9 L700.3 1919.0 L701.3 1919.1 L702.3 1919.2 L703.3 1919.3 L704.3 1919.4 L705.3 1919.5 L706.3 1919.6 L707.3 1919.8 L708.3 1919.9 L709.3 1920.0 L710.3 1920.2 L711.3 1920.3 L712.3 1920.5 L713.3 1920.6 L714.3 1920.8 L715.3 1921.0 L716.3 1921.1 L717.3 1921.3 L718.3 1921.5 L719.3 1921.7 L720.3 1921.9 L721.3 1922.1 L722.3 1922.3 L723.3 1922.5 L724.3 1922.8 L725.3 1923.0 L726.3 1923.3 L727.3 1923.5 L728.3 1923.8 L729.3 1924.0 L730.3 1924.3 L731.3 1924.6 L732.3 1924.9 L733.3 1925.1 L734.3 1925.4 L735.3 1925.7 L736.3 1926.1 L737.3 1926.4 L738.3 1926.7 L739.3 1927.0 L740.3 1927.4 L741.3 1927.7 L742.3 1928.1 L743.3 1928.4 L744.3 1928.8 L745.3 1929.2 L746.3 1929.6 L747.3 1929.9 L748.3 1930.3 L749.3 1930.7 L750.3 1931.2 L751.3 1931.6 L752.3 1932.0 L753.3 1932.4 L754.3 1932.9 L755.3 1933.3 L756.3 1933.8 L757.3 1934.3 L758.3 1934.7 L759.3 1935.2 L760.3 1935.7 L761.3 1936.2 L762.3 1936.7 L763.3 1937.2 L764.3 1937.8 L765.3 1938.3 L766.3 1938.8 L767.3 1939.4 L768.4 1939.9 L769.4 1940.5 L770.4 1941.1 L771.4 1941.7 L772.4 1942.3 L773.4 1942.9 L774.4 1943.5 L775.4 1944.1 L776.4 1944.7 L777.4 1945.3 L778.4 1946.0 L779.4 1946.6 L780.4 1947.3 L781.4 1948.0 L782.4 1948.6 L783.4 1949.3 L784.4 1950.0 L785.4 1950.7 L786.4 1951.4 L787.4 1952.2 L788.4 1952.9 L789.4 1953.6 L790.4 1954.4 L791.4 1955.2 L792.4 1955.9 L793.4 1956.7 L794.4 1957.5 L795.4 1958.3 L796.4 1959.1 L797.4 1959.9 L798.4 1960.7 L799.4 1961.6 L800.4 1962.4 L801.4 1963.3" stroke-dasharray="21.42 21.4"/>
<path class="f" style="stroke-width:2.7" d="M200.51 2144.70 v-14.20 M200.51 1693.60 v14.20 M275.62 2144.70 v-14.20 M275.62 1693.60 v14.20 M350.73 2144.70 v-14.20 M350.73 1693.60 v14.20 M425.84 2144.70 v-14.20 M425.84 1693.60 v14.20 M500.96 2144.70 v-14.20 M500.96 1693.60 v14.20 M576.07 2144.70 v-14.20 M576.07 1693.60 v14.20 M651.18 2144.70 v-14.20 M651.18 1693.60 v14.20 M726.29 2144.70 v-14.20 M726.29 1693.60 v14.20 M125.40 2069.52 h14.20 M801.40 2069.52 h-14.20 M125.40 1994.33 h14.20 M801.40 1994.33 h-14.20 M125.40 1919.15 h14.20 M801.40 1919.15 h-14.20 M125.40 1843.97 h14.20 M801.40 1843.97 h-14.20 M125.40 1768.78 h14.20 M801.40 1768.78 h-14.20"/>
<rect class="f" x="125.40" y="1693.60" width="676.00" height="451.10"/>
<text transform="translate(125.40 2176.70) scale(1.0120 1)" font-size="25.40" text-anchor="middle">0</text>
<text transform="translate(200.51 2176.70) scale(1.0120 1)" font-size="25.40" text-anchor="middle">5</text>
<text transform="translate(275.62 2176.70) scale(1.0120 1)" font-size="25.40" text-anchor="middle">10</text>
<text transform="translate(350.73 2176.70) scale(1.0120 1)" font-size="25.40" text-anchor="middle">15</text>
<text transform="translate(425.84 2176.70) scale(1.0120 1)" font-size="25.40" text-anchor="middle">20</text>
<text transform="translate(500.96 2176.70) scale(1.0120 1)" font-size="25.40" text-anchor="middle">25</text>
<text transform="translate(576.07 2176.70) scale(1.0120 1)" font-size="25.40" text-anchor="middle">30</text>
<text transform="translate(651.18 2176.70) scale(1.0120 1)" font-size="25.40" text-anchor="middle">35</text>
<text transform="translate(726.29 2176.70) scale(1.0120 1)" font-size="25.40" text-anchor="middle">40</text>
<text transform="translate(801.40 2176.70) scale(1.0120 1)" font-size="25.40" text-anchor="middle">45</text>
<text transform="translate(112.90 2153.90) scale(1.0150 1)" font-size="25.40" text-anchor="end">0.0</text>
<text transform="translate(112.90 2078.52) scale(1.0150 1)" font-size="25.40" text-anchor="end">0.5</text>
<text transform="translate(112.90 2003.13) scale(1.0150 1)" font-size="25.40" text-anchor="end">1.0</text>
<text transform="translate(112.90 1927.75) scale(1.0150 1)" font-size="25.40" text-anchor="end">1.5</text>
<text transform="translate(112.90 1852.37) scale(1.0150 1)" font-size="25.40" text-anchor="end">2.0</text>
<text transform="translate(112.90 1776.98) scale(1.0150 1)" font-size="25.40" text-anchor="end">2.5</text>
<text transform="translate(112.90 1701.60) scale(1.0150 1)" font-size="25.40" text-anchor="end">3.0</text>
<path class="c" stroke="#FF8C00" d="M136.0 1738.60 H248.8"/>
<path class="c" stroke="#FA050A" d="M136.0 1783.00 H248.8"/>
<text transform="translate(258.00 1744.80) scale(0.9880 1)" font-size="22.25"><tspan class="i">T</tspan><tspan baseline-shift="-7.60" font-size="14.46">G</tspan> = 25 °C</text>
<text transform="translate(258.00 1789.60) scale(0.9850 1)" font-size="22.25"><tspan class="i">T</tspan><tspan baseline-shift="-7.60" font-size="14.46">G</tspan> = <tspan class="i">T</tspan><tspan baseline-shift="-7.60" font-size="14.46">1</tspan></text>
<text transform="translate(150.00 1833.20) scale(1.0180 1)" font-size="25.40">Broadleaf trees and</text>
<text transform="translate(150.00 1865.00) scale(1.0180 1)" font-size="25.40"><tspan class="i" letter-spacing="1.30">b</tspan><tspan letter-spacing="1.30">,</tspan><tspan class="i">c</tspan></text>
<text transform="translate(-0.30 1694.00)" font-size="41.00" class="pl">d</text>
<text transform="translate(463.50 2214.00)" font-size="26.05" text-anchor="middle">Instantaneous temperature <tspan class="i">T</tspan><tspan baseline-shift="-7.60" font-size="17.97">1</tspan> (°C)</text>
<text transform="translate(50.80 1437.90) rotate(-90)" font-size="26.00"><tspan letter-spacing="-0.09">Upper canopy leaf-</tspan>level dark respiration <tspan class="i">R</tspan><tspan baseline-shift="-7.60" font-size="17.94">d</tspan> (µmol CO<tspan baseline-shift="-7.60" font-size="17.94">2</tspan> m<tspan baseline-shift="10.60" font-size="17.94">−2</tspan> s<tspan baseline-shift="10.60" font-size="17.94">−1</tspan>)</text>
</svg></body></html>
